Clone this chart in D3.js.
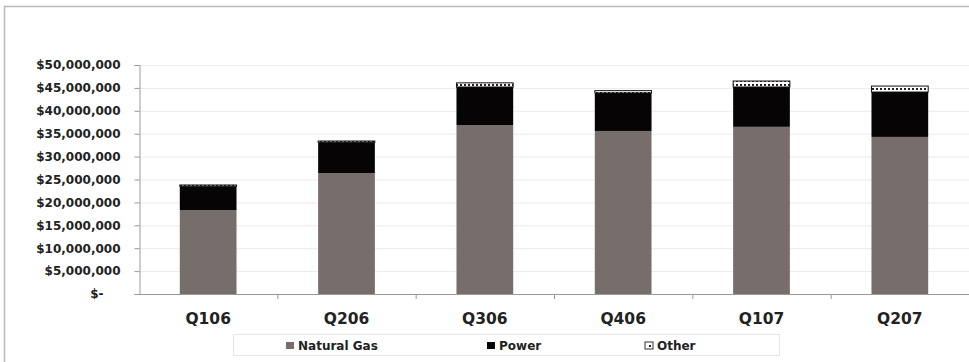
<!DOCTYPE html>
<html><head><meta charset="utf-8">
<script src="https://cdn.jsdelivr.net/npm/d3@7"></script>
<style>body{margin:0;background:#fff}svg{display:block;font-family:"DejaVu Sans",Arial,sans-serif}</style>
</head><body><svg id="c" width="969" height="362"></svg>
<script>
const categories = ["Q106","Q206","Q306","Q406","Q107","Q207"];
const naturalGas = [18.3e6, 26.4e6, 36.9e6, 35.6e6, 36.5e6, 34.3e6];
const power      = [5.2e6, 6.7e6, 8.3e6, 8.3e6, 8.7e6, 9.8e6];
const other      = [0.3e6, 0.3e6, 0.9e6, 0.5e6, 1.3e6, 1.3e6];
const seriesNames = ["Natural Gas","Power","Other"];
const yTicks = [0,5e6,10e6,15e6,20e6,25e6,30e6,35e6,40e6,45e6,50e6];

const svg = d3.select("#c");
const defs = svg.append("defs");
const pat = defs.append("pattern").attr("id","dots").attr("patternUnits","userSpaceOnUse").attr("width",4).attr("height",4);
pat.append("rect").attr("width",4).attr("height",4).attr("fill","#fff");
pat.append("rect").attr("width",2).attr("height",2).attr("fill","#222");

// frame
svg.append("path").attr("d","M4.5,362 V6.5 H969").attr("fill","none").attr("stroke","#bbb").attr("stroke-width",1.5);

const pLeft = 139, pRight = 969, pTop = 65, pBottom = 294;
const x = d3.scaleBand().domain(categories).range([pLeft, pRight]).paddingInner(0.59).paddingOuter(0.295);
const y = d3.scaleLinear().domain([0,50e6]).range([pBottom, pTop]);

// grid
svg.append("g").selectAll("line").data(yTicks.slice(1)).join("line")
  .attr("x1",pLeft).attr("x2",pRight).attr("y1",d=>y(d)+0.5).attr("y2",d=>y(d)+0.5)
  .attr("stroke","#ebebeb");

const rows = categories.map((c,i)=>({cat:c, "Natural Gas":naturalGas[i], "Power":power[i], "Other":other[i]}));
const stack = d3.stack().keys(seriesNames)(rows);
const fills = {"Natural Gas":"#776e6b","Power":"#060405","Other":"url(#dots)"};

svg.append("g").selectAll("g").data(stack).join("g")
  .attr("fill",d=>fills[d.key])
  .attr("stroke",d=>d.key==="Other"?"#111":"none")
  .attr("stroke-width",1)
  .selectAll("rect").data(d=>d).join("rect")
  .attr("x",d=>x(d.data.cat)).attr("width",x.bandwidth())
  .attr("y",d=>y(d[1])).attr("height",d=>Math.max(0,y(d[0])-y(d[1])));

// y axis
const yAxis = d3.axisLeft(y).tickValues(yTicks).tickSize(5).tickPadding(14)
  .tickFormat(d=> d===0 ? "$-" : "$"+d3.format(",")(d));
const ya = svg.append("g").attr("transform",`translate(${pLeft+0.5},0)`).call(yAxis);
ya.selectAll("path,line").attr("stroke","#999");
ya.selectAll("text").attr("font-size",12).attr("font-weight","bold").attr("fill","#222")
  .attr("font-family","'DejaVu Sans',sans-serif");
ya.selectAll(".tick").filter(d=>d===0).select("text").attr("dx",-17);

// x axis
svg.append("line").attr("x1",pLeft).attr("x2",pRight).attr("y1",pBottom+0.5).attr("y2",pBottom+0.5).attr("stroke","#999");
const step = x.step();
const bounds = d3.range(1, categories.length).map(i=>x(categories[i]) - step*0.295);
svg.append("g").selectAll("line").data(bounds).join("line")
  .attr("x1",d=>d+0.5).attr("x2",d=>d+0.5).attr("y1",pBottom).attr("y2",pBottom+5).attr("stroke","#999");
svg.append("g").selectAll("text").data(categories).join("text")
  .attr("x",d=>x(d)+x.bandwidth()/2).attr("y",324).attr("text-anchor","middle")
  .attr("font-size",15.5).attr("font-weight","bold").attr("fill","#222").text(d=>d);

// legend
svg.append("rect").attr("x",233.5).attr("y",334.5).attr("width",546).attr("height",21).attr("fill","#fff").attr("stroke","#e6e6e6");
const legX = [286, 487, 645];
const lg = svg.append("g").selectAll("g").data(seriesNames).join("g")
  .attr("transform",(d,i)=>`translate(${legX[i]},345)`);
lg.append("rect").attr("x",0).attr("y",-3).attr("width",8).attr("height",7)
  .attr("fill",d=>d==="Other"?"#fff":fills[d]).attr("stroke",d=>d==="Other"?"#333":"none");
lg.filter(d=>d==="Other").append("rect").attr("x",2).attr("y",-1).attr("width",4).attr("height",3).attr("fill","url(#dots)");
lg.append("text").attr("x",12).attr("y",4.5).attr("font-size",12).attr("font-weight","bold").attr("fill","#222").text(d=>d);
</script></body></html>
